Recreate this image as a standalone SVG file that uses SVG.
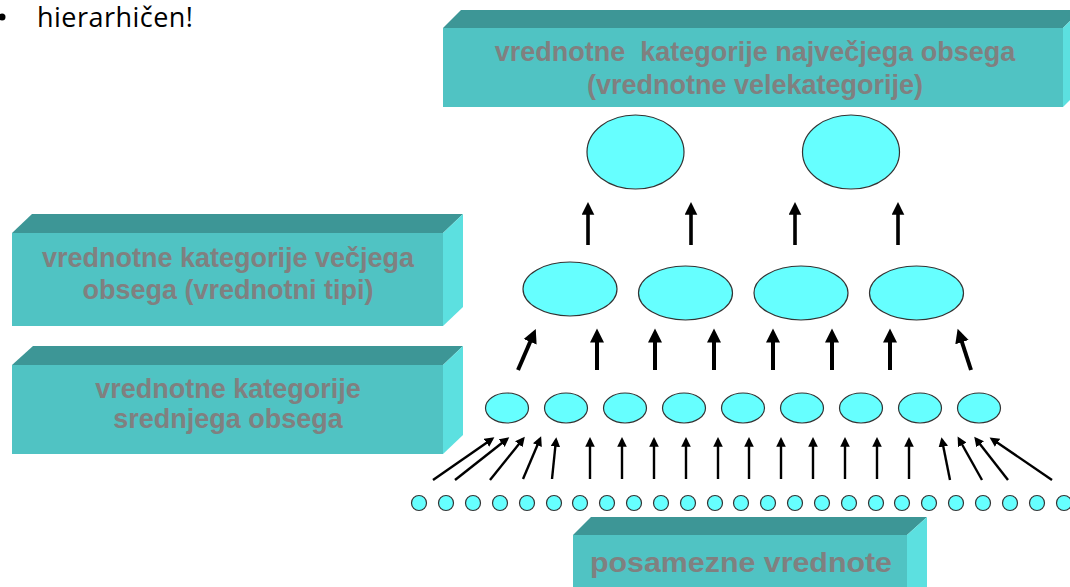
<svg xmlns="http://www.w3.org/2000/svg" width="1070" height="587" viewBox="0 0 1070 587">
  <style>
    .front { fill: #50c3c3; }
    .top { fill: #3d9696; }
    .side { fill: #5ce0e0; }
    .lbl { font-family: "Liberation Sans", Arial, sans-serif; font-weight: bold; font-size: 27px; fill: #808080; text-anchor: middle; }
    .node { fill: #66ffff; stroke: #333333; stroke-width: 1.2; }
    .thin { stroke: #000; stroke-width: 2.4; fill: none; marker-end: url(#headS); }
    .thick { stroke: #000; stroke-width: 4; fill: none; marker-end: url(#headL); }
  </style>
  <defs>
    <marker id="headS" markerUnits="strokeWidth" markerWidth="5" markerHeight="5" refX="2.8" refY="2" orient="auto">
      <path d="M0,0 L4,2 L0,4 z" fill="#000"/>
    </marker>
    <marker id="headL" markerUnits="strokeWidth" markerWidth="4" markerHeight="4" refX="2.4" refY="1.75" orient="auto">
      <path d="M0,0 L3.5,1.75 L0,3.5 z" fill="#000"/>
    </marker>
  </defs>

  <rect width="1070" height="587" fill="#ffffff"/>

  <!-- bullet line -->
  <g id="bullet">
    <circle cx="2" cy="17" r="3.5" fill="#000"/>
    <text x="37" y="27" font-family="'Open Sans', 'Liberation Sans', sans-serif" font-size="27" fill="#000" textLength="156">hierarhičen!</text>
  </g>

  <!-- level boxes -->
  <g id="box-top">
    <polygon class="top" points="443,28 461,10 1081,10 1063,28"/>
    <polygon class="side" points="1063,28 1081,10 1081,89 1063,107"/>
    <rect class="front" x="443" y="28" width="620" height="79"/>
    <text class="lbl" x="755" y="61" style="white-space:pre">vrednotne  kategorije največjega obsega</text>
    <text class="lbl" x="755" y="94">(vrednotne velekategorije)</text>
  </g>

  <g id="box-types">
    <polygon class="top" points="12,233 32,214 463,214 443,233"/>
    <polygon class="side" points="443,233 463,214 463,307 443,326"/>
    <rect class="front" x="12" y="233" width="431" height="93"/>
    <text class="lbl" x="228" y="267">vrednotne kategorije večjega</text>
    <text class="lbl" x="228" y="299">obsega (vrednotni tipi)</text>
  </g>

  <g id="box-middle">
    <polygon class="top" points="12,365 33,346 463,346 443,365"/>
    <polygon class="side" points="443,365 463,346 463,435 443,454"/>
    <rect class="front" x="12" y="365" width="431" height="89"/>
    <text class="lbl" x="228" y="398">vrednotne kategorije</text>
    <text class="lbl" x="228" y="428">srednjega obsega</text>
  </g>

  <g id="box-values">
    <polygon class="top" points="573,535 591,517 927,517 907,535"/>
    <polygon class="side" points="907,535 927,517 927,587 907,605"/>
    <rect class="front" x="573" y="535" width="334" height="60"/>
    <text class="lbl" x="741" y="572" font-size="28" textLength="302" lengthAdjust="spacingAndGlyphs">posamezne vrednote</text>
  </g>

  <!-- top-level categories -->
  <g id="level1">
    <ellipse class="node" cx="635.5" cy="152" rx="48.5" ry="37"/>
    <ellipse class="node" cx="851" cy="152" rx="48.5" ry="37"/>
  </g>

  <!-- value types -->
  <g id="level2">
    <ellipse class="node" cx="570" cy="289" rx="47" ry="27"/>
    <ellipse class="node" cx="685.5" cy="293" rx="47" ry="27"/>
    <ellipse class="node" cx="801" cy="293" rx="47" ry="27"/>
    <ellipse class="node" cx="916.5" cy="293" rx="47" ry="27"/>
  </g>

  <!-- middle categories -->
  <g id="level3">
    <ellipse class="node" cx="507" cy="408" rx="21.5" ry="15"/>
    <ellipse class="node" cx="566" cy="408" rx="21.5" ry="15"/>
    <ellipse class="node" cx="625" cy="408" rx="21.5" ry="15"/>
    <ellipse class="node" cx="684" cy="408" rx="21.5" ry="15"/>
    <ellipse class="node" cx="743" cy="408" rx="21.5" ry="15"/>
    <ellipse class="node" cx="802" cy="408" rx="21.5" ry="15"/>
    <ellipse class="node" cx="861" cy="408" rx="21.5" ry="15"/>
    <ellipse class="node" cx="920" cy="408" rx="21.5" ry="15"/>
    <ellipse class="node" cx="979" cy="408" rx="21.5" ry="15"/>
  </g>

  <!-- single values -->
  <g id="level4">
    <circle class="node" cx="419" cy="503" r="7.5"/>
    <circle class="node" cx="446" cy="503" r="7.5"/>
    <circle class="node" cx="473" cy="503" r="7.5"/>
    <circle class="node" cx="500" cy="503" r="7.5"/>
    <circle class="node" cx="527" cy="503" r="7.5"/>
    <circle class="node" cx="554" cy="503" r="7.5"/>
    <circle class="node" cx="580" cy="503" r="7.5"/>
    <circle class="node" cx="607" cy="503" r="7.5"/>
    <circle class="node" cx="634" cy="503" r="7.5"/>
    <circle class="node" cx="661" cy="503" r="7.5"/>
    <circle class="node" cx="688" cy="503" r="7.5"/>
    <circle class="node" cx="715" cy="503" r="7.5"/>
    <circle class="node" cx="741" cy="503" r="7.5"/>
    <circle class="node" cx="768" cy="503" r="7.5"/>
    <circle class="node" cx="795" cy="503" r="7.5"/>
    <circle class="node" cx="822" cy="503" r="7.5"/>
    <circle class="node" cx="849" cy="503" r="7.5"/>
    <circle class="node" cx="876" cy="503" r="7.5"/>
    <circle class="node" cx="902" cy="503" r="7.5"/>
    <circle class="node" cx="929" cy="503" r="7.5"/>
    <circle class="node" cx="956" cy="503" r="7.5"/>
    <circle class="node" cx="983" cy="503" r="7.5"/>
    <circle class="node" cx="1010" cy="503" r="7.5"/>
    <circle class="node" cx="1037" cy="503" r="7.5"/>
    <circle class="node" cx="1064" cy="503" r="7.5"/>
  </g>

  <!-- connectors -->
  <g id="connectors">
    <!-- values to middle categories -->
    <line class="thin" x1="433" y1="480" x2="492" y2="439"/>
    <line class="thin" x1="455" y1="480" x2="507" y2="439"/>
    <line class="thin" x1="490" y1="480" x2="523" y2="439"/>
    <line class="thin" x1="523" y1="479" x2="540" y2="439"/>
    <line class="thin" x1="552" y1="479" x2="556" y2="440"/>
    <line class="thin" x1="590" y1="479" x2="590" y2="440"/>
    <line class="thin" x1="622" y1="479" x2="622" y2="440"/>
    <line class="thin" x1="654" y1="479" x2="654" y2="440"/>
    <line class="thin" x1="686" y1="479" x2="686" y2="440"/>
    <line class="thin" x1="718" y1="479" x2="718" y2="440"/>
    <line class="thin" x1="749" y1="479" x2="749" y2="440"/>
    <line class="thin" x1="781" y1="479" x2="781" y2="440"/>
    <line class="thin" x1="813" y1="479" x2="813" y2="440"/>
    <line class="thin" x1="845" y1="479" x2="845" y2="440"/>
    <line class="thin" x1="877" y1="479" x2="877" y2="440"/>
    <line class="thin" x1="909" y1="479" x2="909" y2="440"/>
    <line class="thin" x1="950" y1="480" x2="942" y2="440"/>
    <line class="thin" x1="982" y1="480" x2="959" y2="439"/>
    <line class="thin" x1="1008" y1="480" x2="976" y2="439"/>
    <line class="thin" x1="1052" y1="480" x2="992" y2="439"/>
    <!-- middle categories to value types -->
    <line class="thick" x1="518" y1="370" x2="534" y2="333"/>
    <line class="thick" x1="597" y1="370" x2="597" y2="333"/>
    <line class="thick" x1="655" y1="370" x2="655" y2="333"/>
    <line class="thick" x1="714" y1="370" x2="714" y2="333"/>
    <line class="thick" x1="773" y1="370" x2="773" y2="333"/>
    <line class="thick" x1="832" y1="370" x2="832" y2="333"/>
    <line class="thick" x1="890" y1="370" x2="890" y2="333"/>
    <line class="thick" x1="971" y1="370" x2="959" y2="333"/>
    <!-- value types to top-level categories -->
    <line class="thick" style="stroke-width:3.6" x1="588" y1="245" x2="588" y2="206"/>
    <line class="thick" style="stroke-width:3.6" x1="691" y1="245" x2="691" y2="206"/>
    <line class="thick" style="stroke-width:3.6" x1="795" y1="245" x2="795" y2="206"/>
    <line class="thick" style="stroke-width:3.6" x1="898" y1="245" x2="898" y2="206"/>
  </g>
</svg>
